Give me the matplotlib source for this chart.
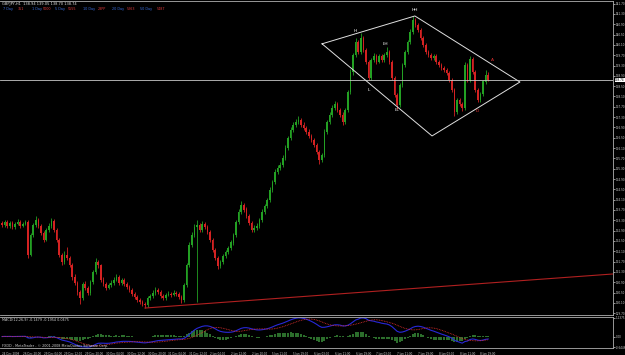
import numpy as np
import matplotlib
matplotlib.use("Agg")
import matplotlib.pyplot as plt

# ---------------- data ----------------
opens = [
133.18,133.12,133.24,133.08,133.20,133.04,133.16,133.24,133.08,133.16,
133.24,131.97,132.73,133.12,133.32,133.08,132.81,132.54,132.93,133.08,
133.28,132.93,132.54,131.96,131.69,131.96,131.84,131.57,131.11,130.87,
130.52,130.29,130.83,130.68,130.49,130.91,131.30,131.69,131.57,130.99,
130.83,130.68,130.79,130.87,130.99,131.11,130.87,130.99,130.83,130.72,
130.60,130.45,130.33,130.21,130.14,130.06,130.02,130.29,130.37,130.49,
130.60,130.52,130.37,130.29,130.41,130.45,130.41,130.49,130.45,130.33,
130.21,130.80,131.57,132.35,132.73,133.04,133.12,132.93,133.16,133.04,
132.85,132.54,132.15,131.84,131.53,131.69,131.92,132.08,132.23,132.43,
132.73,133.24,133.63,133.90,133.71,133.47,133.20,132.93,133.01,133.08,
133.32,133.63,133.86,134.09,134.48,134.79,135.18,135.33,135.45,135.72,
136.11,136.49,136.80,137.00,137.11,137.19,137.00,136.88,136.73,136.57,
136.42,136.22,135.95,135.64,135.83,136.73,137.11,137.39,137.66,137.81,
137.58,137.39,137.11,137.58,138.28,139.05,139.71,140.21,139.83,140.37,
139.90,139.44,138.82,139.52,139.67,139.44,139.67,139.52,139.71,139.83,
139.44,138.82,138.16,137.77,138.55,139.32,139.83,140.21,140.60,141.07,
140.87,140.68,140.37,140.10,139.83,139.71,139.59,139.67,139.44,139.32,
139.21,139.13,139.01,138.74,138.35,137.50,137.97,137.81,137.66,139.32,
138.74,139.56,139.05,138.35,137.97,138.20,138.67,138.94]

closes = [
133.12,133.24,133.08,133.20,133.04,133.16,133.24,133.08,133.16,133.24,
131.97,132.73,133.12,133.32,133.08,132.81,132.54,132.93,133.08,133.28,
132.93,132.54,131.96,131.69,131.96,131.84,131.57,131.11,130.87,130.52,
130.29,130.83,130.68,130.49,130.91,131.30,131.69,131.57,130.99,130.83,
130.68,130.79,130.87,130.99,131.11,130.87,130.99,130.83,130.72,130.60,
130.45,130.33,130.21,130.14,130.06,130.02,130.29,130.37,130.49,130.60,
130.52,130.37,130.29,130.41,130.45,130.41,130.49,130.45,130.33,130.21,
130.80,131.57,132.35,132.73,133.04,133.12,132.93,133.16,133.04,132.85,
132.54,132.15,131.84,131.53,131.69,131.92,132.08,132.23,132.43,132.73,
133.24,133.63,133.90,133.71,133.47,133.20,132.93,133.01,133.08,133.32,
133.63,133.86,134.09,134.48,134.79,135.18,135.33,135.45,135.72,136.11,
136.49,136.80,137.00,137.11,137.19,137.00,136.88,136.73,136.57,136.42,
136.22,135.95,135.64,135.83,136.73,137.11,137.39,137.66,137.81,137.58,
137.39,137.11,137.58,138.28,139.05,139.71,140.21,139.83,140.37,139.90,
139.44,138.82,139.52,139.67,139.44,139.67,139.52,139.71,139.83,139.44,
138.82,138.16,137.77,138.55,139.32,139.83,140.21,140.60,141.07,140.87,
140.68,140.37,140.10,139.83,139.71,139.59,139.67,139.44,139.32,139.21,
139.13,139.01,138.74,138.35,137.50,137.97,137.81,137.66,139.32,138.74,
139.56,139.05,138.35,137.97,138.20,138.67,138.94,138.74]

highs = [
133.27,133.33,133.31,133.28,133.29,133.22,133.35,133.30,133.24,133.32,
133.30,132.80,133.20,133.45,133.38,133.15,132.90,133.00,133.18,133.40,
133.35,133.00,132.62,132.05,132.10,132.25,131.92,131.66,131.20,130.95,
130.60,130.92,130.95,130.75,131.00,131.38,131.85,131.78,131.62,131.10,
130.92,130.88,130.98,131.10,131.22,131.18,131.08,131.05,130.90,130.80,
130.68,130.52,130.40,130.30,130.22,130.12,130.36,130.45,130.58,130.70,
130.68,130.60,130.45,130.50,130.55,130.52,130.58,130.56,130.52,130.40,
130.88,131.65,132.45,132.85,133.15,133.30,133.20,133.28,133.25,133.10,
132.92,132.60,132.22,131.92,131.78,132.00,132.15,132.30,132.52,132.82,
133.32,133.72,134.05,133.98,133.80,133.55,133.28,133.10,133.18,133.40,
133.72,133.95,134.18,134.58,134.88,135.28,135.45,135.55,135.82,136.20,
136.58,136.90,137.12,137.22,137.35,137.28,137.10,136.95,136.82,136.65,
136.50,136.30,136.02,135.92,136.82,137.20,137.48,137.75,137.92,137.88,
137.65,137.48,137.66,138.36,139.15,139.80,140.35,140.30,140.55,140.45,
139.98,139.52,139.60,139.78,139.75,139.76,139.75,139.80,140.00,139.90,
139.50,138.90,138.25,138.62,139.40,139.92,140.30,140.70,141.20,141.15,
140.95,140.75,140.45,140.18,139.92,139.80,139.76,139.75,139.52,139.40,
139.30,139.20,139.08,138.82,138.42,138.05,138.05,137.90,139.45,139.40,
139.65,139.62,139.12,138.42,138.28,138.75,139.12,139.05]

lows = [
133.05,133.06,133.02,133.01,132.98,132.97,133.10,133.01,133.03,133.10,
131.85,131.90,132.65,133.05,133.00,132.75,132.45,132.48,132.85,133.00,
132.85,132.45,131.88,131.55,131.60,131.78,131.50,131.00,130.78,130.40,
130.05,130.20,130.60,130.40,130.42,130.85,131.22,131.45,130.90,130.75,
130.60,130.62,130.72,130.80,130.93,130.80,130.80,130.76,130.65,130.52,
130.38,130.25,130.12,130.05,129.98,129.92,129.95,130.22,130.30,130.42,
130.45,130.30,130.20,130.22,130.35,130.34,130.35,130.38,130.25,130.10,
130.15,130.72,131.50,132.25,132.65,130.14,132.85,132.85,132.95,132.78,
132.45,132.08,131.75,131.40,131.45,131.62,131.85,132.00,132.15,132.35,
132.65,133.15,133.55,133.62,133.40,133.12,132.85,132.85,132.92,133.00,
133.25,133.55,133.78,134.00,134.40,134.70,135.10,135.25,135.38,135.65,
136.02,136.40,136.72,136.90,137.02,136.92,136.80,136.65,136.48,136.35,
136.15,135.88,135.50,135.55,135.75,136.65,137.02,137.30,137.58,137.50,
137.30,137.00,137.05,137.50,138.20,138.95,139.62,139.75,139.75,139.82,
139.36,138.75,138.75,139.45,139.36,139.38,139.45,139.45,139.62,139.36,
138.75,138.08,137.60,137.70,138.48,139.25,139.75,140.12,140.52,140.78,
140.60,140.30,140.02,139.75,139.62,139.50,139.52,139.36,139.24,139.12,
139.05,138.92,138.65,138.26,137.35,137.42,137.72,137.55,137.58,138.65,
138.66,138.98,138.28,137.88,137.90,138.12,138.58,138.70]

time_labels = ["24 Dec 2008", "26 Dec 20:00", "29 Dec 04:00", "29 Dec 12:00",
               "29 Dec 20:00", "30 Dec 04:00", "30 Dec 12:00", "30 Dec 20:00",
               "31 Dec 04:00", "31 Dec 12:00", "2 Jan 04:00", "2 Jan 12:00",
               "2 Jan 20:00", "5 Jan 11:00", "5 Jan 19:00", "6 Jan 03:00",
               "6 Jan 11:00", "6 Jan 19:00", "7 Jan 03:00", "7 Jan 11:00",
               "7 Jan 19:00", "8 Jan 03:00", "8 Jan 11:00", "8 Jan 19:00"]
label_step = 8

price_ticks = [141.70, 141.30, 140.90, 140.50, 140.10, 139.70, 139.30, 138.90,
               138.50, 138.10, 137.70, 137.30, 136.90, 136.50, 136.10, 135.70,
               135.30, 134.90, 134.50, 134.10, 133.70, 133.30, 132.90, 132.50,
               132.10, 131.70, 131.30, 130.90, 130.50, 130.10, 129.70]

# pattern annotations (bar index, price)
diamond_bar = [123.1, 158.8, 199.2, 165.4, 123.1]
diamond_price = [140.14, 141.22, 138.66, 136.57, 140.14]
trend_bar = [55, 235]
trend_price = [129.90, 131.22]
hline_price = 138.74
pattern_text = ["H", "LH", "HH", "L", "LL", "A", "D"]
pattern_bar = [135.8, 147.3, 158.8, 141.0, 152.0, 188.5, 182.7]
pattern_price = [140.62, 140.13, 141.45, 138.35, 137.58, 139.52, 137.52]
pattern_color = ["white", "white", "white", "white", "white", "#e03030", "#e03030"]

ind_names = ["7 Day", "351", "1 Day", "5000", "5 Day", "5555", "10 Day", "28PP",
             "20 Day", "5263", "50 Day", "5487"]

# ---------------- drawing ----------------
W, H = 625, 355
fig = plt.figure(figsize=(W / 100, H / 100), dpi=100, facecolor="black")

def px_axes(x0, y0, x1, y1):
    return fig.add_axes([x0 / W, 1 - y1 / H, (x1 - x0) / W, (y1 - y0) / H])

axm = px_axes(0, 1, 613, 315)
axi = px_axes(0, 317, 613, 348)

n = len(closes)
x = np.arange(n)
o = np.array(opens); c = np.array(closes)
hi = np.array(highs); lo = np.array(lows)
up = c >= o
GREEN, RED = "#23a023", "#d42222"
cols = np.where(up, GREEN, RED)

xlim = (-0.77, 235.0)
for ax in (axm, axi):
    ax.set_facecolor("black")
    ax.set_xlim(*xlim)
    for s in ax.spines.values():
        s.set_color("#b0b0b0")
        s.set_linewidth(0.6)
    ax.spines["left"].set_visible(False)
    ax.tick_params(left=False, bottom=False, labelbottom=False, labelleft=False,
                   right=True, labelright=True, colors="#d0d0d0", labelsize=2.0,
                   length=1.2, width=0.5, pad=0.6)

axm.set_ylim(129.63, 141.80)
axm.vlines(x, lo, hi, colors=cols, linewidth=0.6)
axm.bar(x, np.abs(c - o) + 0.02, bottom=np.minimum(o, c) - 0.01, width=0.65,
        color=cols, linewidth=0)
axm.yaxis.set_ticks_position("right")
axm.set_yticks(price_ticks)
axm.set_yticklabels([f"{t:.2f}" for t in price_ticks])

axm.axhline(hline_price, color="#c8c8c8", linewidth=0.6)
axm.plot(diamond_bar, diamond_price, color="#e0e0e0", linewidth=0.7)
axm.plot(trend_bar, trend_price, color="#b02020", linewidth=0.8)
for t, b, p, col in zip(pattern_text, pattern_bar, pattern_price, pattern_color):
    axm.text(b, p, t, color=col, fontsize=3.2, ha="center", va="center")

axm.text(1.003, hline_price, f"{hline_price:.2f}", transform=axm.get_yaxis_transform(),
         fontsize=2.0, color="black", va="center", ha="left",
         bbox=dict(boxstyle="square,pad=0.12", fc="white", ec="none"))

axm.text(2 / 613, 1 - 3 / 314, f"GBPJPY,H1  {opens[-1]:.2f} {highs[-1]:.2f} {lows[-1]:.2f} {closes[-1]:.2f}",
         transform=axm.transAxes, color="#e0e0e0", fontsize=2.6, va="center", ha="left")
ind_x = [3, 18, 32, 43, 55, 68, 83, 98, 112, 127, 140, 157]
for name, xx, k in zip(ind_names, ind_x, range(len(ind_names))):
    axm.text(xx / 613, 1 - 8 / 314, name, transform=axm.transAxes,
             color="#3a6ee0" if k % 2 == 0 else "#e03a3a", fontsize=2.4, va="center", ha="left")

# MACD(12,26,9) from the closes
def ema(v, span):
    a = 2 / (span + 1)
    out = np.empty_like(v)
    out[0] = v[0]
    for i in range(1, len(v)):
        out[i] = a * v[i] + (1 - a) * out[i - 1]
    return out

macd = ema(c, 12) - ema(c, 26)
signal = np.array([macd[max(0, i - 8):i + 1].mean() for i in range(n)])
hist = macd - signal
axi.bar(x, hist, width=0.7, color="#2c6e2c", linewidth=0)
axi.plot(x, macd, color="#2828d8", linewidth=0.8)
axi.plot(x, signal, color="#e03030", linewidth=0.6, linestyle=(0, (1, 1)))
lo_i, hi_i = macd.min(), macd.max()
axi.set_ylim(lo_i - 0.05, hi_i + 0.05)
axi.set_yticks([hi_i, 0, lo_i])
axi.set_yticklabels([f"{hi_i:.4f}", "0.00", f"{lo_i:.4f}"])
axi.text(2 / 613, 0.9, f"MACD(12,26,9) {macd[-1]:.4f} {signal[-1]:.4f} {hist[-1]:.4f}",
         transform=axi.transAxes, color="#d0d0d0", fontsize=2.4, va="center")
axi.text(2 / 613, 0.08, "FXDD - MetaTrader - © 2001-2008 MetaQuotes Software Corp.",
         transform=axi.transAxes, color="#d0d0d0", fontsize=2.4, va="center")

# time labels
for k, lab in enumerate(time_labels):
    bx = k * label_step
    if bx > xlim[1]:
        break
    axi.text(bx, -0.12, lab, transform=axi.get_xaxis_transform(), color="#d0d0d0",
             fontsize=2.0, va="top", ha="left")

fig.savefig("out.png", dpi=100, facecolor="black")
